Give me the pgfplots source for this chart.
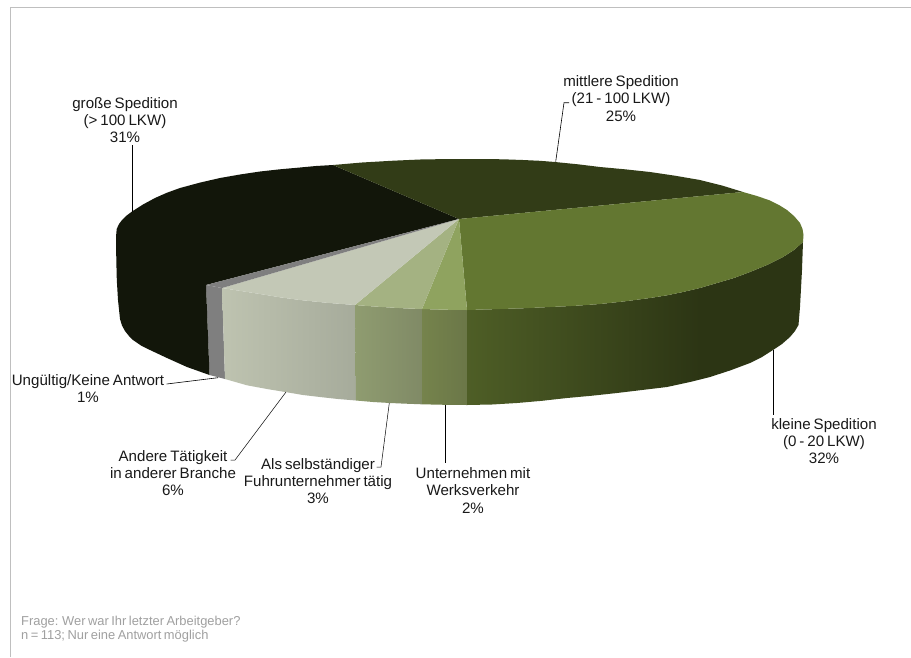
\documentclass[border=0pt]{standalone}
\usepackage{fontspec}
\setmainfont{Liberation Sans}[WordSpace=0.7]
\usepackage{pgfplots}
\pgfplotsset{compat=1.18}
% slice colours: top faces and shaded rims
\definecolor{blackgreen}{HTML}{12160A}
\definecolor{darkgreen}{HTML}{323C17}
\definecolor{midgreen}{HTML}{637731}
\definecolor{rimA}{HTML}{4E5E26}
\definecolor{rimB}{HTML}{2C3514}
\definecolor{olive}{HTML}{8FA35F}
\definecolor{oliveA}{HTML}{75834C}
\definecolor{oliveB}{HTML}{6B7748}
\definecolor{sage}{HTML}{A4B282}
\definecolor{sageA}{HTML}{8F9C70}
\definecolor{sageB}{HTML}{808A66}
\definecolor{pale}{HTML}{C3C8B6}
\definecolor{paleA}{HTML}{BEC3B0}
\definecolor{paleB}{HTML}{A6AB9B}
\definecolor{slicegrey}{HTML}{7F7F7F}
\definecolor{framegrey}{HTML}{BFBFBF}
\definecolor{notegrey}{HTML}{A0A0A0}
\tikzset{lab/.style={font=\fontsize{15.1}{17.3}\selectfont, align=center, text=black!90, inner sep=0pt}}
\begin{document}
\begin{tikzpicture}
\begin{axis}[
  scale only axis, width=911pt, height=657pt,
  xmin=0, xmax=911, ymin=0, ymax=657, y dir=reverse,
  hide axis, clip=true,
  every axis plot/.append style={draw=none, mark=none},
]
\addplot[fill=white] coordinates {(0,0)(911,0)(911,657)(0,657)} -- cycle;
% outer frame
\addplot[draw=framegrey, line width=1pt] coordinates {(10.5,657)(10.5,7.5)(911,7.5)};

% rims, left to right
\addplot[fill=slicegrey] coordinates {(206,285)(222,288)(225,379)(209.5,375)} -- cycle;
\addplot[left color=paleA, right color=paleB] coordinates {(222,288)(241,291)(260,294)(280,297.3)(300,300)(327,302.8)(355,305)(356,400.5)(338,399)(320,397)(303,395)(287,392.3)(267,389)(247,385.3)(225,379)} -- cycle;
\addplot[left color=sageA, right color=sageB] coordinates {(355,305)(373,306.4)(390,307.5)(406,308.4)(422,309)(422,404.3)(406,403.7)(390,403)(373,402)(356,400.5)} -- cycle;
\addplot[left color=oliveA, right color=oliveB] coordinates {(422,309)(445,309.7)(467,310)(467,405)(445,404.8)(422,404.3)} -- cycle;
\addplot[left color=rimA, right color=rimB] coordinates {(467,310)(500,309)(525,308.2)(550,307)(575,305.8)(600,304)(625,301.3)(650,298)(667,295.3)(683,292)(700,288)(700,379.5)(690,382)(667,387)(642,390)(617,393)(592,395.7)(567,398)(542,400.8)(517,403)(492,404.5)(467,405)} -- cycle;
\addplot[fill=rimB] coordinates {(700,288)(717,283)(734,278)(750,272)(767,265)(783,257)(794,250)(803,242)(802,270)(800,307)(798.5,325)(795,331)(790,337)(782,344)(773,350)(762,357)(750,363)(730,370.5)(710,377)(700,379.5)} -- cycle;

% top faces, with the rim of the dark slice included
\addplot[fill=blackgreen] coordinates {(459,219)(333,165)(316,166)(300,167.5)(280,169.3)(260,171.5)(240,174.5)(220,178)(200,182.6)(180,188)(167,192.7)(155,198)(143,204.5)(132,211.5)(126,216)(122,220)(119,224)(116.7,229)(116,237)(116.3,260)(116.8,280)(118,300)(120,319)(122,325.5)(125,331)(129,336)(133,340)(141,345.5)(150,350)(167,358)(187,367)(209.5,375)(206,285)} -- cycle;
\addplot[fill=darkgreen] coordinates {(459,219)(743,192)(722,185.5)(700,180)(675,175.7)(650,172)(625,169.3)(600,167)(578,164.3)(555,162)(540,160.8)(523,160)(503,159.3)(483,159)(450,159)(420,159.5)(393,160.7)(362,162.5)(333,165)} -- cycle;
\addplot[fill=midgreen] coordinates {(459,219)(467,310)(500,309)(525,308.2)(550,307)(575,305.8)(600,304)(625,301.3)(650,298)(667,295.3)(683,292)(700,288)(717,283)(734,278)(750,272)(767,265)(783,257)(794,250)(803,242)(803.5,235)(802.5,229)(800,223)(794,216)(787,210)(779,205)(770,200.5)(757,196)(743,192)} -- cycle;
\addplot[fill=olive] coordinates {(459,219)(422,309)(445,309.7)(467,310)} -- cycle;
\addplot[fill=sage] coordinates {(459,219)(355,305)(373,306.4)(390,307.5)(406,308.4)(422,309)} -- cycle;
\addplot[fill=pale] coordinates {(459,219)(222,288)(241,291)(260,294)(280,297.3)(300,300)(327,302.8)(355,305)} -- cycle;
\addplot[fill=slicegrey] coordinates {(459,219)(206,285)(222,288)} -- cycle;

% leader lines
\addplot[draw=black, line width=0.8pt] coordinates {(132.7,145)(132.7,212)};
\addplot[draw=black, line width=0.6pt] coordinates {(569,102.7)(564,102.7)(555.7,161.7)};
\addplot[draw=black, line width=0.8pt] coordinates {(773,350)(773,415)};
\addplot[draw=black, line width=0.8pt] coordinates {(445.7,405)(445.7,463)};
\addplot[draw=black, line width=0.5pt] coordinates {(389.3,403)(381,467)(376.7,467)};
\addplot[draw=black, line width=0.5pt] coordinates {(286,392)(235,460)(230.7,460)};
\addplot[draw=black, line width=0.6pt] coordinates {(218,377.7)(166.7,384)};

% slice labels
\node[lab] at (axis cs:125,120) {große Spedition\\(> 100 LKW)\\31\%};
\node[lab] at (axis cs:621,98.5) {mittlere Spedition\\(21 - 100 LKW)\\25\%};
\node[lab] at (axis cs:824,441) {kleine Spedition\\(0 - 20 LKW)\\32\%};
\node[lab] at (axis cs:473,490.5) {Unternehmen mit\\Werksverkehr\\2\%};
\node[lab] at (axis cs:318,481) {Als selbständiger\\Fuhrunternehmer tätig\\3\%};
\node[lab] at (axis cs:173,473) {Andere Tätigkeit\\in anderer Branche\\6\%};
\node[lab] at (axis cs:88,388.5) {Ungültig/Keine Antwort\\1\%};

% survey note
\node[font=\fontsize{12.9}{13.8}\selectfont, align=left, text=notegrey, anchor=west, inner sep=0pt] at (axis cs:21,629.5) {Frage: Wer war Ihr letzter Arbeitgeber?\\n = 113; Nur eine Antwort möglich};
\end{axis}
\end{tikzpicture}
\end{document}
